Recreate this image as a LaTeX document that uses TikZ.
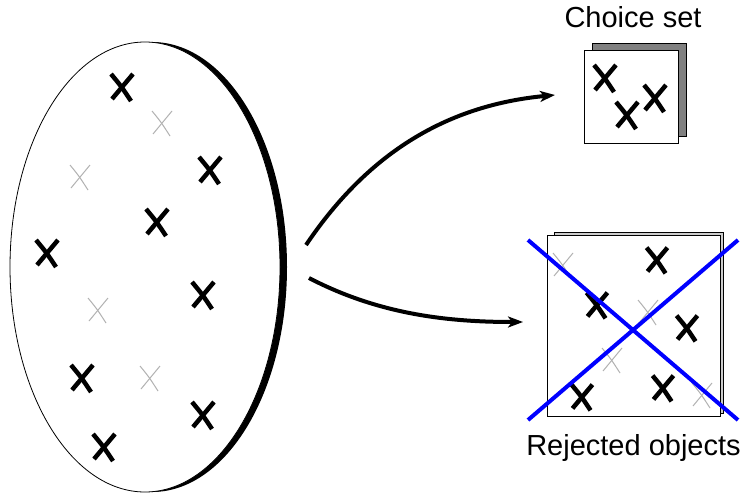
\documentclass[tikz,border=0pt]{standalone}
\usepackage{fontspec}
\setmainfont{Liberation Sans}
\usepackage{tikz}
\usetikzlibrary{shapes,arrows,positioning,calc,arrows.meta}

\tikzset{
    darkx/.style={line width=4.5pt, black},
    lightx/.style={line width=1pt, black!30},
    flow/.style={line width=4pt, -{Stealth[length=15pt,width=11pt,inset=4pt]}},
    strike/.style={line width=4pt, blue},
    pics/bigx/.style={code={
        \draw[darkx] (-11,-13) .. controls (-1,-1) .. (9,14);
        \draw[darkx] (11,-13) .. controls (0,0) .. (-10,12);
    }},
    pics/thinx/.style={code={
        \draw[lightx] (-10,-12) .. controls (-1,-1) .. (8,13);
        \draw[lightx] (10,-12) .. controls (0,0) .. (-9,11);
    }},
}

\begin{document}
\begin{tikzpicture}[x=1pt,y=-1pt]
    \useasboundingbox (0,0) rectangle (744,495);

    % the whole set
    \fill[black] (152,267) ellipse [x radius=135, y radius=225];
    \node[draw, ellipse, fill=white, line width=0.8pt, minimum width=270pt, minimum height=450pt, inner sep=0pt] (pool) at (145,267) {};

    \foreach \p in {(122,87),(210,170),(157,222),(47,253),(203,295),(82,378),(203,415),(104,447)}
        \pic at \p {bigx};
    \foreach \p in {(162,123),(80,177),(98,310),(150,378)}
        \pic at \p {thinx};

    % choice set
    \draw[fill=black!50, line width=0.8pt] (592,43) rectangle (686,136);
    \node[draw, fill=white, line width=0.8pt, minimum width=94pt, minimum height=93pt, inner sep=0pt] (choice) at (631,96.5) {};
    \node[anchor=base, font=\fontsize{29}{33}\selectfont] (choicelbl) at (633,28) {Choice set};
    \foreach \p in {(605,78),(627,115),(655,98)}
        \pic at \p {bigx};

    % rejected objects
    \draw[fill=black!20, line width=0.8pt] (554,232) rectangle (723,413);
    \node[draw, fill=white, line width=0.8pt, minimum width=173pt, minimum height=181pt, inner sep=0pt] (rejected) at (633.5,325.5) {};
    \node[anchor=base, font=\fontsize{29}{33}\selectfont] (rejlbl) at (633.5,455) {Rejected objects};
    \foreach \p in {(563,265),(648,312),(612,360),(702,395)}
        \pic at \p {thinx};
    \foreach \p in {(657,260),(597,305),(687,328),(582,397),(663,388)}
        \pic[scale=0.95] at \p {bigx};
    \coordinate (s1) at (528,240);
    \coordinate (s2) at (738,420);
    \coordinate (s3) at (528,420);
    \coordinate (s4) at (738,240);
    \draw[strike] (s1) -- (s2);
    \draw[strike] (s3) -- (s4);

    % arrows
    \coordinate (a1) at (306,245);
    \coordinate (a2) at (309,278);
    \draw[flow] (a1) .. controls (370,150) and (450,105) .. (555,95);
    \draw[flow] (a2) .. controls (380,315) and (450,322) .. (523,322);
\end{tikzpicture}
\end{document}
